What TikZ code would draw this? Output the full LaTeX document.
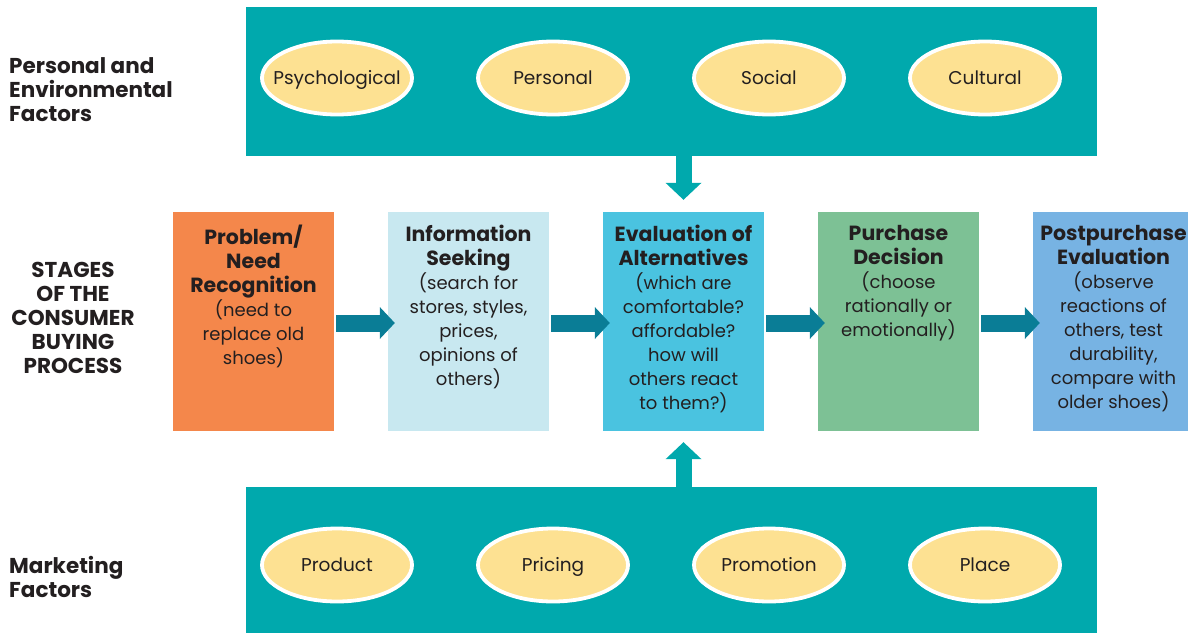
\documentclass[tikz,border=0pt]{standalone}
\usepackage{fontspec}
\setmainfont{Poppins}
\usetikzlibrary{shapes.geometric,arrows.meta}
\definecolor{bandc}{HTML}{00A9AD}
\definecolor{ellc}{HTML}{FDE192}
\definecolor{arrc}{HTML}{0A7D96}
\definecolor{txt}{HTML}{231F20}
\definecolor{c1}{HTML}{F4874B}
\definecolor{c2}{HTML}{C8E8F0}
\definecolor{c3}{HTML}{4AC3E0}
\definecolor{c4}{HTML}{7DC195}
\definecolor{c5}{HTML}{77B3E3}
\newcommand{\hd}[1]{{\fontsize{20.5}{24}\selectfont\bfseries #1}}
\begin{document}
\begin{tikzpicture}[x=1pt,y=-1pt,
  bandbox/.style={rectangle,fill=bandc,draw=none,inner sep=0pt,minimum width=851pt},
  factor/.style={ellipse,fill=ellc,draw=white,line width=3.8pt,minimum width=150pt,minimum height=73pt,inner xsep=-40pt,inner ysep=-10pt,text height=13pt,text depth=0pt,text=txt,font=\fontsize{18.5}{20}\selectfont},
  stagebox/.style={rectangle,draw=none,inner sep=0pt,minimum width=161pt,minimum height=219pt},
  stagetext/.style={anchor=north,align=center,inner sep=0pt,text=txt,font=\fontsize{18}{24}\selectfont},
  sidelabel/.style={inner sep=0pt,text=txt,font=\bfseries\fontsize{21.5}{24}\selectfont},
  flow/.style={draw=arrc,line width=17pt,-{Triangle[length=15pt,width=32pt,line width=0pt]}},
  vflow/.style={draw=bandc,line width=16pt,-{Triangle[length=17pt,width=36pt,line width=0pt]}}]
\useasboundingbox (0,0) rectangle (1188,632);
% bands
\node[bandbox,minimum height=149pt] (topband) at (671.5,81.5) {};
\node[bandbox,minimum height=153pt] (botband) at (671.5,563.5) {};
% factors
\node[factor] (psy) at (337,78) {Psychological};
\node[factor] (per) at (553,78) {Personal};
\node[factor] (soc) at (769,78) {Social};
\node[factor] (cul) at (985,78) {Cultural};
\node[factor] (pro) at (337,565) {Product};
\node[factor] (pri) at (553,565) {Pricing};
\node[factor] (prm) at (769,565) {Promotion};
\node[factor] (pla) at (985,565) {Place};
% stage boxes
\node[stagebox,fill=c1] (b1) at (253.5,321.5) {};
\node[stagebox,fill=c2] (b2) at (468.5,321.5) {};
\node[stagebox,fill=c3] (b3) at (683.5,321.5) {};
\node[stagebox,fill=c4] (b4) at (898.5,321.5) {};
\node[stagebox,fill=c5] (b5) at (1113.5,321.5) {};
\node[stagetext] (t1) at ([yshift=-13pt]b1.north) {\hd{Problem/}\\\hd{Need}\\\hd{Recognition}\\(need to\\replace old\\shoes)};
\node[stagetext] (t2) at ([yshift=-13pt]b2.north) {\hd{Information}\\\hd{Seeking}\\(search for\\stores, styles,\\prices,\\opinions of\\others)};
\node[stagetext] (t3) at ([yshift=-13pt]b3.north) {\hd{Evaluation of}\\\hd{Alternatives}\\(which are\\comfortable?\\affordable?\\how will\\others react\\to them?)};
\node[stagetext] (t4) at ([yshift=-13pt]b4.north) {\hd{Purchase}\\\hd{Decision}\\(choose\\rationally or\\emotionally)};
\node[stagetext] (t5) at ([yshift=-13pt]b5.north) {\hd{Postpurchase}\\\hd{Evaluation}\\(observe\\reactions of\\others, test\\durability,\\compare with\\older shoes)};
% side labels
\node[sidelabel,anchor=north west,align=left] (lab1) at (9,57) {Personal and\\Environmental\\Factors};
\node[sidelabel,align=center] (lab2) at (73,318) {STAGES\\OF THE\\CONSUMER\\BUYING\\PROCESS};
\node[sidelabel,anchor=north west,align=left] (lab3) at (9,556) {Marketing\\Factors};
% flow arrows
\draw[flow] ([xshift=2pt,yshift=-1.5pt]b1.east) -- ([xshift=7pt,yshift=-1.5pt]b2.west);
\draw[flow] ([xshift=2pt,yshift=-1.5pt]b2.east) -- ([xshift=7pt,yshift=-1.5pt]b3.west);
\draw[flow] ([xshift=2pt,yshift=-1.5pt]b3.east) -- ([xshift=7pt,yshift=-1.5pt]b4.west);
\draw[flow] ([xshift=2pt,yshift=-1.5pt]b4.east) -- ([xshift=7pt,yshift=-1.5pt]b5.west);
\draw[vflow] (topband.south -| b3.north) -- ([yshift=12pt]b3.north);
\draw[vflow] (botband.north -| b3.south) -- ([yshift=-11pt]b3.south);
\end{tikzpicture}
\end{document}
